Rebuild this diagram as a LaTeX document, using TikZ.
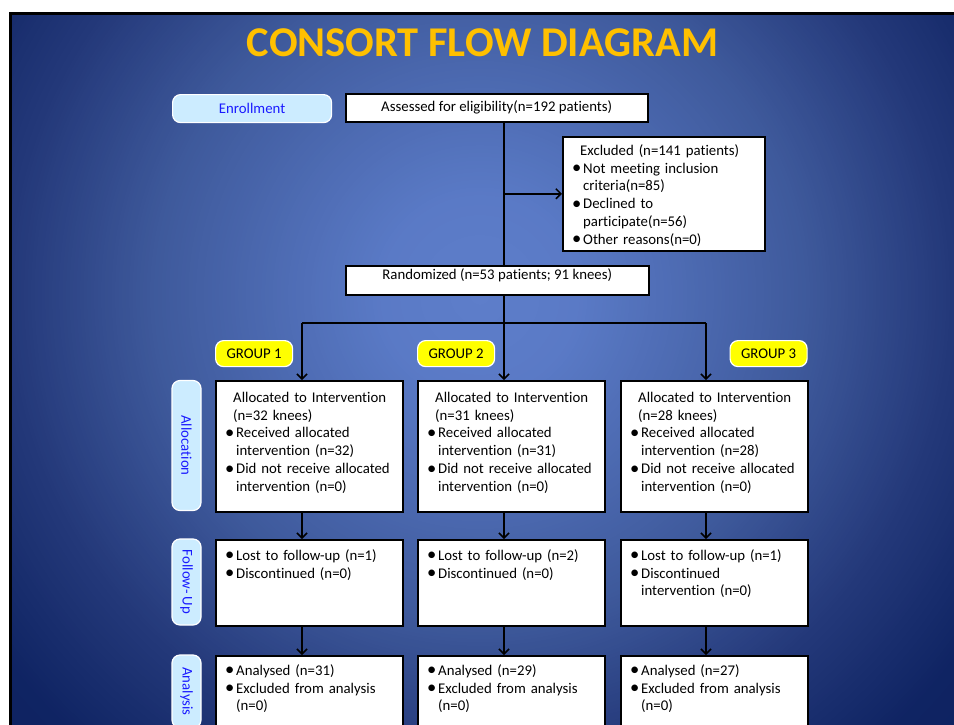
\documentclass[tikz,border=0pt]{standalone}
\usepackage{fontspec}
\setmainfont{Carlito}[Ligatures={NoCommon}]
\usetikzlibrary{arrows.meta,calc}
\definecolor{titlecol}{HTML}{FFC000}
\definecolor{pillblue}{HTML}{CCECFF}
\definecolor{pilltext}{HTML}{1A1AFF}
\definecolor{grpyellow}{HTML}{FFFF00}
\definecolor{bgA}{HTML}{5E7ECA}
\definecolor{bgAA}{HTML}{5A7AC6}
\definecolor{bgB}{HTML}{3E599B}
\definecolor{bgBB}{HTML}{24397A}
\definecolor{bgC}{HTML}{0F2463}
\definecolor{bgD}{HTML}{0D2160}
\newcommand\bgring[5]{%
  \foreach \k in {0,...,#5}{%
    \pgfmathsetmacro\rr{#1-(#1-#2)*\k/#5}%
    \pgfmathsetmacro\pp{100*\k/#5}%
    \fill[#4!\pp!#3] (cx) circle[radius=\rr pt];}}
\newcommand\bitem{\par\hangindent=11pt\hangafter=1\noindent\makebox[11pt][l]{\hspace{0pt}\raisebox{-0.3pt}{\scalebox{1.25}{\textbullet}}}}
\newcommand\hd{\par\noindent\hspace*{8pt}}
\begin{document}
\begin{tikzpicture}[x=1pt,y=-1pt,
  font=\fontsize{14.8}{17.9}\selectfont,
  box/.style={draw=black, fill=white, line width=1.5pt, inner sep=0pt, anchor=north west},
  pill/.style={draw=white, fill=pillblue, line width=1.2pt, rounded corners=8pt, text=pilltext, inner sep=0pt},
  grp/.style={draw=white, fill=grpyellow, line width=1.2pt, rounded corners=8pt, inner sep=0pt, text=black, anchor=north west, minimum width=77, minimum height=26},
  txt/.style={inner sep=0pt, align=left, anchor=north west, text width=180},
  conn/.style={line width=1.5pt},
  arr/.style={conn, -{Straight Barb[length=5pt,width=10pt]}}]
\useasboundingbox (0,0) rectangle (954,724);
\fill[white] (0,0) rectangle (954,724);
\coordinate (cx) at (480,295);
\begin{scope}
  \clip (10.5,13.5) rectangle (960,730);
  \fill[bgD] (10.5,13.5) rectangle (960,730);
  \bgring{720}{600}{bgD}{bgC}{12}
  \bgring{600}{470}{bgC}{bgBB}{40}
  \bgring{470}{330}{bgBB}{bgB}{40}
  \bgring{330}{100}{bgB}{bgAA}{60}
  \bgring{100}{0}{bgAA}{bgA}{10}
\end{scope}
\draw[line width=3pt] (10.5,740) -- (10.5,13.5) -- (960,13.5);

\node[font=\fontsize{42.4}{50}\selectfont\bfseries, text=titlecol, inner sep=0pt] (title) at (482.5,42.5) {CONSORT FLOW DIAGRAM};

% side pills
\node[pill, minimum width=159, minimum height=28, anchor=north west] (enrol) at (172,94) {Enrollment};
\node[pill, rotate=-90, minimum width=130, minimum height=29] (allocp) at (186.5,445.5) {Allocation};
\node[pill, rotate=-90, minimum width=86, minimum height=29] (follp) at (186.5,582) {Follow- Up};
\node[pill, rotate=-90, minimum width=73, minimum height=29] (analp) at (186.5,691.5) {Analysis};

% top boxes
\node[box, minimum width=302, minimum height=28] (assess) at (345,93) {Assessed for eligibility(n=192 patients)};
\node[box, minimum width=202, minimum height=114] (excl) at (562,136) {};
\node[txt] (exclt) at ([xshift=10pt,yshift=-1pt]excl.north west) {\hd Excluded (n=141 patients)\bitem Not meeting inclusion\newline criteria(n=85)\bitem Declined to\newline participate(n=56)\bitem Other reasons(n=0)\par};
\node[box, minimum width=303, text height=12pt, text depth=13pt, inner ysep=2pt] (rand) at (345,265) {Randomized (n=53 patients; 91 knees)};

% group labels
\node[grp] (g1) at (215,340) {GROUP 1};
\node[grp] (g2) at (417,340) {GROUP 2};
\node[grp] (g3) at (729.5,340) {GROUP 3};

% allocation boxes
\node[box, minimum width=187, minimum height=131] (a1) at (215,380) {};
\node[box, minimum width=187, minimum height=131] (a2) at (417,380) {};
\node[box, minimum width=187, minimum height=131] (a3) at (620,380) {};
\node[txt] (a1t) at ([xshift=10pt,yshift=-4pt]a1.north west) {\hd Allocated to Intervention\hd (n=32 knees)\bitem Received allocated\newline intervention (n=32)\bitem Did not receive allocated\newline intervention (n=0)\par};
\node[txt] (a2t) at ([xshift=10pt,yshift=-4pt]a2.north west) {\hd Allocated to Intervention\hd (n=31 knees)\bitem Received allocated\newline intervention (n=31)\bitem Did not receive allocated\newline intervention (n=0)\par};
\node[txt] (a3t) at ([xshift=10pt,yshift=-4pt]a3.north west) {\hd Allocated to Intervention\hd (n=28 knees)\bitem Received allocated\newline intervention (n=28)\bitem Did not receive allocated\newline intervention (n=0)\par};

% follow-up boxes
\node[box, minimum width=187, minimum height=86] (f1) at (215,539) {};
\node[box, minimum width=187, minimum height=86] (f2) at (417,539) {};
\node[box, minimum width=187, minimum height=86] (f3) at (620,539) {};
\node[txt] (f1t) at ([xshift=10pt,yshift=-3pt]f1.north west) {\bitem Lost to follow-up (n=1)\bitem Discontinued (n=0)\par};
\node[txt] (f2t) at ([xshift=10pt,yshift=-3pt]f2.north west) {\bitem Lost to follow-up (n=2)\bitem Discontinued (n=0)\par};
\node[txt] (f3t) at ([xshift=10pt,yshift=-3pt]f3.north west) {\bitem Lost to follow-up (n=1)\bitem Discontinued\newline intervention (n=0)\par};

% analysis boxes
\node[box, minimum width=187, minimum height=90] (n1) at (215,655) {};
\node[box, minimum width=187, minimum height=90] (n2) at (417,655) {};
\node[box, minimum width=187, minimum height=90] (n3) at (620,655) {};
\node[txt] (n1t) at ([xshift=10pt,yshift=-2pt]n1.north west) {\bitem Analysed (n=31)\bitem Excluded from analysis\newline (n=0)\par};
\node[txt] (n2t) at ([xshift=10pt,yshift=-2pt]n2.north west) {\bitem Analysed (n=29)\bitem Excluded from analysis\newline (n=0)\par};
\node[txt] (n3t) at ([xshift=10pt,yshift=-2pt]n3.north west) {\bitem Analysed (n=27)\bitem Excluded from analysis\newline (n=0)\par};

% connectors
\coordinate (xm) at (504,0);
\coordinate (x1) at (302,0);
\coordinate (x3) at (706,0);
\coordinate (ys) at (0,323);
\draw[conn] (assess.south -| xm) -- (rand.north -| xm);
\draw[arr] (xm |- excl.west) -- (excl.west);
\draw[conn] (rand.south -| xm) -- (xm |- ys);
\draw[conn] (x1 |- ys) -- (x3 |- ys);
\draw[arr] (x1 |- ys) -- (a1.north -| x1);
\draw[arr] (xm |- ys) -- (a2.north -| xm);
\draw[arr] (x3 |- ys) -- (a3.north -| x3);
\draw[arr] (a1.south -| x1) -- (f1.north -| x1);
\draw[arr] (a2.south -| xm) -- (f2.north -| xm);
\draw[arr] (a3.south -| x3) -- (f3.north -| x3);
\draw[arr] (f1.south -| x1) -- (n1.north -| x1);
\draw[arr] (f2.south -| xm) -- (n2.north -| xm);
\draw[arr] (f3.south -| x3) -- (n3.north -| x3);
\end{tikzpicture}
\end{document}
